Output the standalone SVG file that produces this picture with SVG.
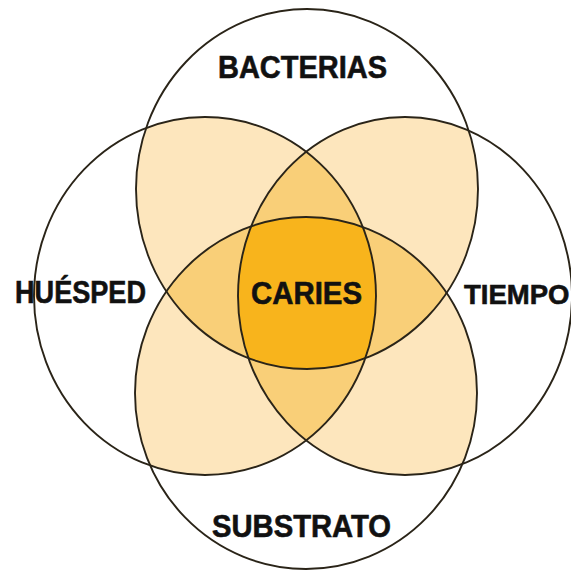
<svg xmlns="http://www.w3.org/2000/svg" width="571" height="575" viewBox="0 0 571 575">
<style>
.ring{fill:none;stroke:#2a2418;stroke-width:1.9}
.lbl{font-family:"Liberation Sans",Arial,sans-serif;font-weight:bold;font-size:31px;fill:#111;stroke:#111;stroke-width:0.6}
</style>
<defs>
<ellipse id="eT" cx="307" cy="189" rx="171" ry="180"/>
<ellipse id="eB" cx="306" cy="393" rx="171" ry="176"/>
<ellipse id="eL" cx="205" cy="296" rx="171" ry="179"/>
<ellipse id="eR" cx="405" cy="296" rx="167" ry="179"/>
<clipPath id="cT"><use href="#eT"/></clipPath>
<clipPath id="cB"><use href="#eB"/></clipPath>
<clipPath id="cL"><use href="#eL"/></clipPath>
<clipPath id="cR"><use href="#eR"/></clipPath>
</defs>
<rect width="571" height="575" fill="#ffffff"/>
<g id="fills">
<g clip-path="url(#cT)"><use href="#eL" fill="#fde6bd"/><use href="#eR" fill="#fde6bd"/></g>
<g clip-path="url(#cB)"><use href="#eL" fill="#fde6bd"/><use href="#eR" fill="#fde6bd"/></g>
<g clip-path="url(#cT)"><use href="#eB" fill="#f9cf78"/></g>
<g clip-path="url(#cL)"><use href="#eR" fill="#f9cf78"/></g>
<g clip-path="url(#cT)"><g clip-path="url(#cB)"><g clip-path="url(#cL)"><use href="#eR" fill="#f8b41c"/></g></g></g>
</g>
<g id="connectors"></g>
<g id="bacterias"><use href="#eT" class="ring"/><text class="lbl" x="218" y="78" textLength="169" lengthAdjust="spacingAndGlyphs">BACTERIAS</text></g>
<g id="substrato"><use href="#eB" class="ring"/><text class="lbl" x="212" y="537" textLength="179" lengthAdjust="spacingAndGlyphs">SUBSTRATO</text></g>
<g id="huesped"><use href="#eL" class="ring"/><text class="lbl" x="15" y="303" textLength="131" lengthAdjust="spacingAndGlyphs">HUÉSPED</text></g>
<g id="tiempo"><use href="#eR" class="ring"/><text class="lbl" x="464" y="304" style="font-size:27.5px">TIEMPO</text></g>
<g id="caries"><text class="lbl" x="251" y="304" textLength="111" lengthAdjust="spacingAndGlyphs">CARIES</text></g>
</svg>
